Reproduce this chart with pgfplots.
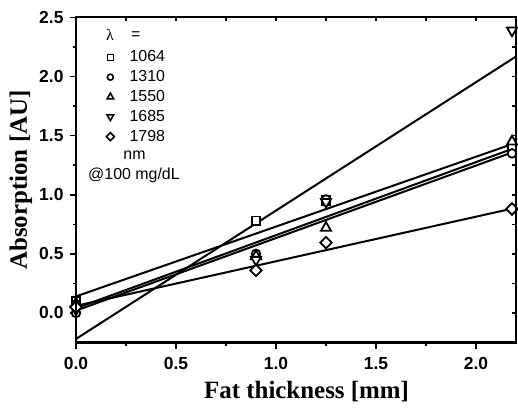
\documentclass[border=0pt]{standalone}
\usepackage{fontspec}
\setmainfont{Liberation Sans}
\newfontfamily\timesfont{Liberation Serif}
\usepackage{pgfplots}
\pgfplotsset{compat=1.18}

% linear fits, drawn over the full x range
\pgfplotstableread{
x    y
0    0.14
2.2  1.44
}\fitA
\pgfplotstableread{
x    y
0    0.02
2.2  1.37
}\fitB
\pgfplotstableread{
x    y
0    0.04
2.2  1.40
}\fitC
\pgfplotstableread{
x    y
0    -0.22
2.2  2.17
}\fitD
\pgfplotstableread{
x    y
0    0.06
2.2  0.89
}\fitE

\begin{document}
\begin{tikzpicture}
\begin{axis}[
    name=main,
    scale only axis,
    width=440bp, height=325bp,
    xmin=0, xmax=2.2, ymin=-0.25, ymax=2.5,
    xtick={0,0.5,1.0,1.5,2.0},
    ytick={0,0.5,1.0,1.5,2.0,2.5},
    minor tick num=1,
    tick align=outside,
    xtick pos=left, ytick pos=left,
    major tick length=6bp, minor tick length=3bp,
    axis line style={line width=2bp},
    every tick/.style={black, line width=1.6bp},
    tick label style={font=\fontsize{17.5}{17.5}\selectfont\bfseries},
    xticklabel style={yshift=-5bp},
    yticklabel style={xshift=-3bp},
    /pgf/number format/assume math mode=true,
    /pgf/number format/fixed,
    /pgf/number format/fixed zerofill,
    /pgf/number format/precision=1,
    xlabel={\timesfont\bfseries Fat thickness [mm]},
    ylabel={\timesfont\bfseries Absorption [AU]},
    xlabel style={font=\fontsize{25}{25}\selectfont, at={(axis description cs:0.524,-0.15)}, anchor=center},
    ylabel style={font=\fontsize{25}{25}\selectfont, at={(axis description cs:-0.125,0.5)}, anchor=center},
    legend style={draw=none, fill=none, at={(axis description cs:0.059,0.901)}, anchor=north west,
        font=\fontsize{16}{16}\selectfont, row sep=4.8bp, column sep=11bp, inner sep=0pt,
        nodes={inner sep=0pt, text height=12bp, text depth=3bp}},
    legend cell align=left,
    legend image code/.code={\path (0bp,0bp) (16bp,0bp); \draw[#1] plot coordinates {(8bp,0bp)};},
    clip=false,
]
\addplot[black, line width=2bp, forget plot] table {\fitA};
\addplot[black, line width=2bp, forget plot] table {\fitB};
\addplot[black, line width=2bp, forget plot] table {\fitC};
\addplot[black, line width=2bp, forget plot] table {\fitD};
\addplot[black, line width=2bp, forget plot] table {\fitE};

% 1064 nm
\addplot[only marks, mark=square*, mark size=4.3bp, mark options={fill=white, draw=black, line width=1.8bp}, forget plot]
  coordinates {(0,0.10) (0.9,0.78) (1.25,0.95) (2.18,1.40)};
% 1310 nm
\addplot[only marks, mark=*, mark size=4.3bp, mark options={fill=white, draw=black, line width=1.8bp}, forget plot]
  coordinates {(0,0.00) (0.9,0.50) (1.25,0.96) (2.18,1.35)};
% 1550 nm
\addplot[only marks, mark=triangle*, mark size=5.8bp, mark options={fill=white, draw=black, line width=1.8bp}, forget plot]
  coordinates {(0,0.08) (0.9,0.48) (1.25,0.72) (2.18,1.45)};
% 1685 nm
\addplot[only marks, mark=triangle*, mark size=5.8bp, mark options={fill=white, draw=black, line width=1.8bp, rotate=180}, forget plot]
  coordinates {(0,0.03) (0.9,0.45) (1.25,0.94) (2.18,2.39)};
% 1798 nm
\addplot[only marks, mark=square*, mark size=4.1bp, mark options={fill=white, draw=black, line width=1.8bp, rotate=45}, forget plot]
  coordinates {(0,0.05) (0.9,0.36) (1.25,0.595) (2.18,0.88)};

\addlegendimage{mark=square*, mark size=3bp, mark options={fill=white, draw=black, line width=1.6bp}}
\addlegendentry{1064}
\addlegendimage{mark=*, mark size=3bp, mark options={fill=white, draw=black, line width=1.6bp}}
\addlegendentry{1310}
\addlegendimage{mark=triangle*, mark size=3.8bp, mark options={fill=white, draw=black, line width=1.6bp}}
\addlegendentry{1550}
\addlegendimage{mark=triangle*, mark size=3.8bp, mark options={fill=white, draw=black, line width=1.6bp, rotate=180}}
\addlegendentry{1685}
\addlegendimage{mark=square*, mark size=2.8bp, mark options={fill=white, draw=black, line width=1.6bp, rotate=45}}
\addlegendentry{1798}

\node[font=\fontsize{16}{16}\selectfont\timesfont] at (axis description cs:0.0773,0.9456) {λ};
\node[font=\fontsize{16}{16}\selectfont] at (axis description cs:0.136,0.9456) {=};
\node[font=\fontsize{16}{16}\selectfont] at (axis description cs:0.133,0.5766) {nm};
\node[font=\fontsize{16}{16}\selectfont, anchor=west, inner sep=0pt] at (axis description cs:0.0273,0.515) {@100 mg/dL};
\end{axis}

% ticks inside on the top and right edges
\begin{axis}[
    scale only axis,
    width=440bp, height=325bp,
    xmin=0, xmax=2.2, ymin=-0.25, ymax=2.5,
    xtick={0.25,0.5,...,2.0},
    ytick={0,0.25,...,2.25},
    xticklabels={}, yticklabels={},
    xtick pos=right, ytick pos=right,
    tick align=inside,
    major tick length=4bp,
    axis line style={line width=2bp},
    every tick/.style={black, line width=1.6bp},
]
\end{axis}

\pgfresetboundingbox
\path[use as bounding box] (main.south west) ++(-76bp,-65.5bp) rectangle ++(518bp,408bp);
\end{tikzpicture}
\end{document}
